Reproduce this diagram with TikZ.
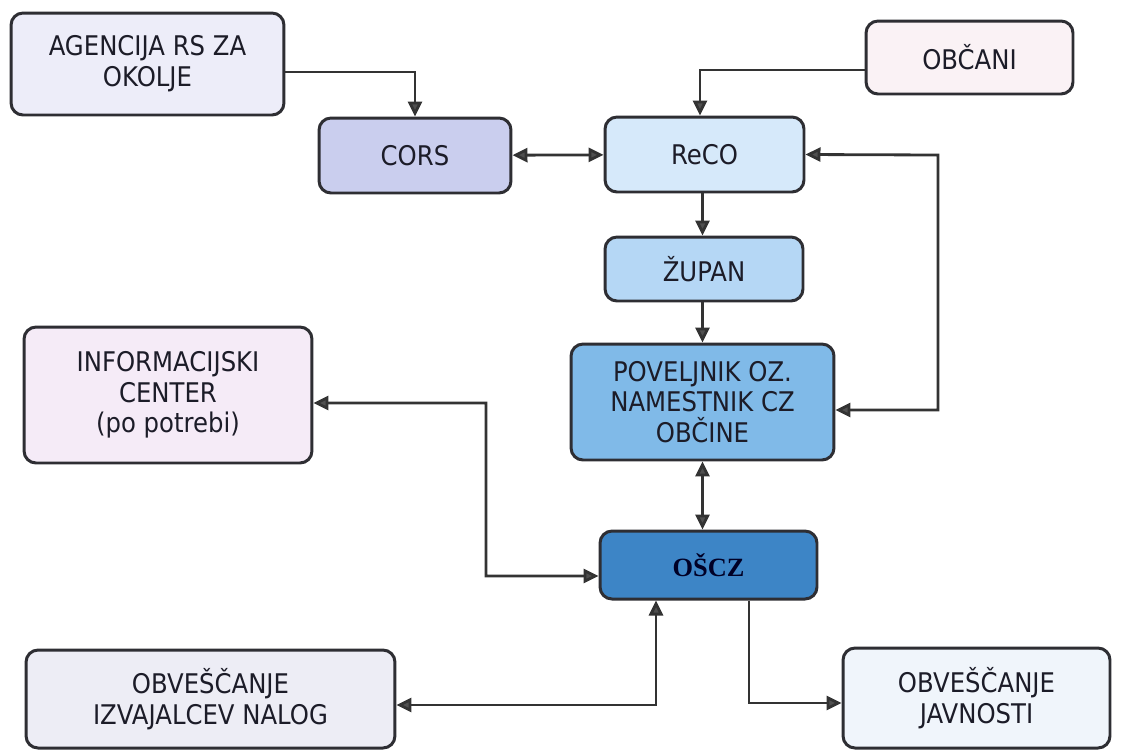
\documentclass[tikz,border=0pt]{standalone}
\usepackage{fontspec}
\setmainfont{DejaVu Sans}[FakeStretch=0.9]
\newfontfamily\oscfont{Liberation Serif}
\usepackage{tikz}
\usetikzlibrary{arrows.meta}

\definecolor{boxline}{HTML}{2E2E33}
\definecolor{linegray}{HTML}{333333}
\definecolor{tipgray}{HTML}{505050}
\definecolor{txtclr}{HTML}{1C1C28}
\definecolor{agencyfill}{HTML}{EDEDF9}
\definecolor{obcanifill}{HTML}{FAF2F5}
\definecolor{corsfill}{HTML}{CACEEE}
\definecolor{recofill}{HTML}{D6E9FA}
\definecolor{zupanfill}{HTML}{B5D7F5}
\definecolor{povfill}{HTML}{80BAE8}
\definecolor{infofill}{HTML}{F5EBF7}
\definecolor{osczfill}{HTML}{3D85C6}
\definecolor{izvfill}{HTML}{EDEDF5}
\definecolor{javfill}{HTML}{F0F5FB}

\tikzstyle{box} = [rectangle, rounded corners=0.24cm, inner sep=0pt, draw=boxline, line width=1.7pt, text=txtclr, text centered, align=center, font=\fontsize{15.4}{17.5}\selectfont]
\tikzstyle{arrow} = [line width=1.6pt, draw=linegray, -{Triangle[length=0.3cm, width=0.28cm, fill=tipgray]}]
\tikzstyle{dblarrow} = [arrow, {Triangle[length=0.3cm, width=0.28cm, fill=tipgray]}-{Triangle[length=0.3cm, width=0.28cm, fill=tipgray]}]

\begin{document}
\begin{tikzpicture}[x=0.02cm, y=-0.02cm]

\useasboundingbox (0,0) rectangle (1121,755);

\node (agency) [box, fill=agencyfill, minimum width=5.46cm, minimum height=2.04cm] at (147.5,64) {AGENCIJA RS ZA\\OKOLJE};
\node (obcani) [box, fill=obcanifill, minimum width=4.14cm, minimum height=1.46cm] at (969.5,57.5) {OBČANI};
\node (cors) [box, fill=corsfill, minimum width=3.84cm, minimum height=1.5cm] at (415,155.5) {CORS};
\node (reco) [box, fill=recofill, minimum width=3.98cm, minimum height=1.5cm] at (704.5,154.5) {ReCO};
\node (zupan) [box, fill=zupanfill, minimum width=3.96cm, minimum height=1.28cm] at (704,269) {ŽUPAN};
\node (pov) [box, fill=povfill, minimum width=5.26cm, minimum height=2.32cm] at (702.5,402) {POVELJNIK OZ.\\NAMESTNIK CZ\\OBČINE};
\node (info) [box, fill=infofill, minimum width=5.76cm, minimum height=2.72cm] at (168,395) {INFORMACIJSKI\\CENTER\\(po potrebi)};
\node (oscz) [box, fill=osczfill, minimum width=4.34cm, minimum height=1.36cm, font=\oscfont\fontsize{15}{16}\selectfont\bfseries, text=black!85!blue] at (708.5,565) {OŠCZ};
\node (izv) [box, fill=izvfill, minimum width=7.38cm, minimum height=1.96cm] at (210.5,699) {OBVEŠČANJE\\IZVAJALCEV NALOG};
\node (jav) [box, fill=javfill, minimum width=5.34cm, minimum height=2cm] at (976.5,698) {OBVEŠČANJE\\JAVNOSTI};

\coordinate (rbend) at (938,155);
\coordinate (ibend) at (486,576);

\draw [arrow] ([yshift=-0.16cm]agency.east) -| (cors);
\draw [arrow] ([yshift=-0.25cm]obcani.west) -| ([xshift=-0.09cm]reco.north);
\draw [dblarrow] (cors) -- (reco);
\draw [dblarrow] (reco.east) -- (rbend) |- ([yshift=-0.16cm]pov.east);
\draw [arrow] (reco.south -| pov.south) -- (pov.south |- zupan.north);
\draw [arrow] (zupan.south -| pov.south) -- (pov.north);
\draw [dblarrow] (pov.south) -- (pov.south |- oscz.north);
\draw [dblarrow] ([yshift=-0.16cm]info.east) -| (ibend) -- ([yshift=-0.22cm]oscz.west);
\draw [dblarrow] ([yshift=-0.12cm]izv.east) -| ([xshift=-1.05cm]oscz.south);
\draw [arrow] ([xshift=0.81cm]oscz.south) |- ([yshift=-0.1cm]jav.west);

\end{tikzpicture}
\end{document}
